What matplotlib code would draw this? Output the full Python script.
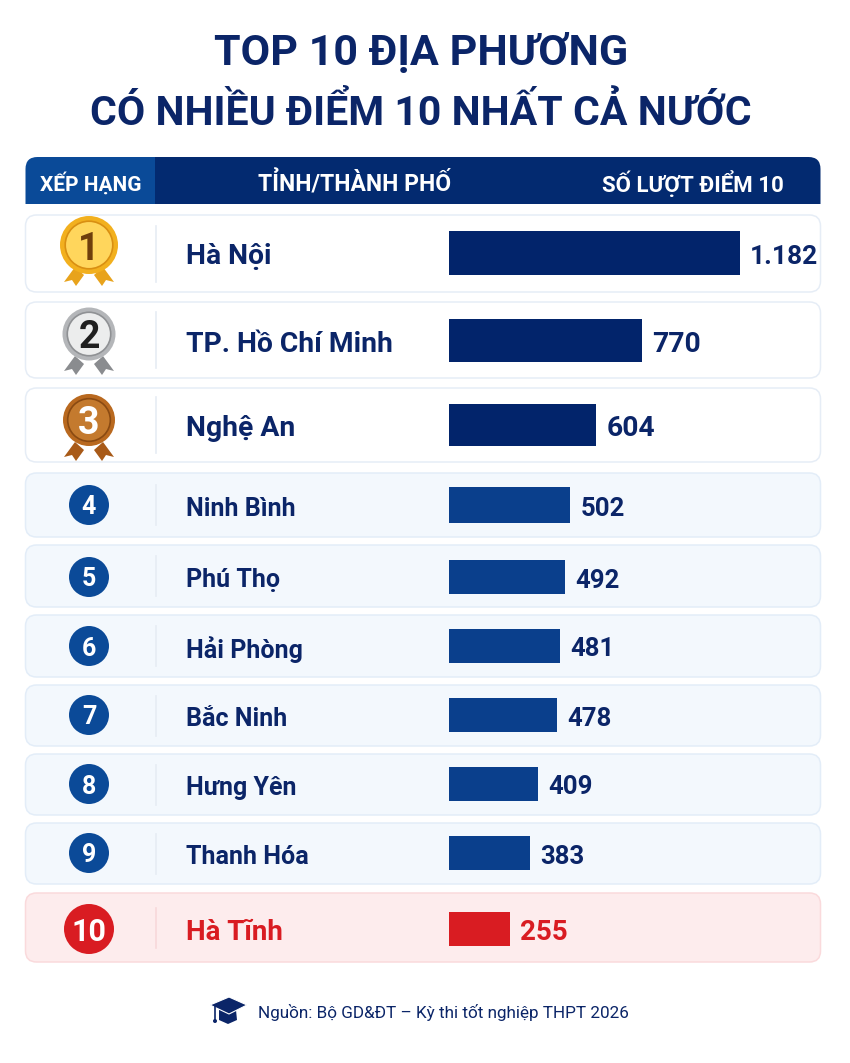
import matplotlib
matplotlib.use("Agg")
import matplotlib.pyplot as plt
from matplotlib.patches import Circle, FancyBboxPatch, PathPatch, Polygon
from matplotlib.path import Path

# data
title_lines = ["TOP 10 ĐỊA PHƯƠNG", "CÓ NHIỀU ĐIỂM 10 NHẤT CẢ NƯỚC"]
headers = ["XẾP HẠNG", "TỈNH/THÀNH PHỐ", "SỐ LƯỢT ĐIỂM 10"]
ranks = ["1", "2", "3", "4", "5", "6", "7", "8", "9", "10"]
places = ["Hà Nội", "TP. Hồ Chí Minh", "Nghệ An", "Ninh Bình", "Phú Thọ",
          "Hải Phòng", "Bắc Ninh", "Hưng Yên", "Thanh Hóa", "Hà Tĩnh"]
counts = [1182, 770, 604, 502, 492, 481, 478, 409, 383, 255]
count_labels = ["1.182", "770", "604", "502", "492", "481", "478", "409", "383", "255"]
# the drawn bars in the picture are not quite proportional to the labels,
# these are the lengths, on the same scale
bar_lengths = [1182, 785, 598, 494, 470, 450, 439, 363, 330, 248]
source = "Nguồn: Bộ GD&ĐT – Kỳ thi tốt nghiệp THPT 2026"

# layout, in pixels of the 850x1063 picture
row_top = [215, 302, 388, 473, 545, 615, 685, 754, 823, 893]
row_bot = [292, 378, 462, 537, 607, 677, 746, 815, 884, 962]
bar_mid = [253, 340, 425, 505, 577, 646, 715, 784, 853, 929]
bar_h = [44, 43, 42, 36, 34, 34, 34, 34, 34, 34]
medal_mid = [245, 334, 420]
medal_r = [29, 26.5, 26]

NAVY = "#02246b"
BLUE = "#0a3f8c"
RED = "#d91c22"
TEXT = "#0b2568"

plt.rcParams['font.family'] = ['Roboto', 'DejaVu Sans']

fig = plt.figure(figsize=(8.5, 10.63), dpi=100, facecolor="white")
ax = fig.add_axes([0, 0, 1, 1])
ax.set_xlim(0, 850)
ax.set_ylim(1063, 0)
ax.axis("off")

# bars get their own axes so the value scale stays a real one
bar_left, bar_right = 449, 820
px_per_count = 0.2458
ax_bar = fig.add_axes([bar_left/850, 0, (bar_right-bar_left)/850, 1])
ax_bar.set_xlim(0, (bar_right-bar_left)/px_per_count)
ax_bar.set_ylim(1063, 0)
ax_bar.axis("off")
ax_bar.patch.set_alpha(0)


def top_round(x0, x1, y0, y1, rl, rr):
    verts = [(x0, y1), (x0, y0+rl), (x0, y0), (x0+rl, y0), (x1-rr, y0), (x1, y0), (x1, y0+rr), (x1, y1), (x0, y1)]
    codes = [Path.MOVETO, Path.LINETO, Path.CURVE3, Path.CURVE3, Path.LINETO, Path.CURVE3, Path.CURVE3, Path.LINETO, Path.CLOSEPOLY]
    return Path(verts, codes)


for i, line in enumerate(title_lines):
    ax.text(421, [49, 109][i], line, ha="center", va="center_baseline", color=TEXT,
            fontsize=[31, 29.5][i], fontweight="bold")

# header band
ax.add_patch(PathPatch(top_round(25.5, 156, 157, 204, 12, 0), fc="#0a4a98", ec="none"))
ax.add_patch(PathPatch(top_round(155, 820.5, 157, 204, 0, 12), fc="#032a70", ec="none"))
for x, h, s in zip([91, 355, 692.5], headers, [15, 16.5, 16]):
    ax.text(x, 181, h, ha="center", va="center_baseline", color="white", fontsize=s, fontweight="bold")

# rows
for i in range(10):
    if i < 3:
        fc, ec = "white", "#e6edf6"
    elif i < 9:
        fc, ec = "#f3f8fd", "#e3edf8"
    else:
        fc, ec = "#fdeced", "#fadadc"
    ax.add_patch(FancyBboxPatch((25.5+11, row_top[i]+11), 795-22, row_bot[i]-row_top[i]-22,
                                boxstyle="round,pad=11,rounding_size=11", fc=fc, ec=ec, lw=1.1))
    m = (row_top[i]+row_bot[i])/2
    ax.plot([156, 156], [m-28 if i < 3 else m-20, m+28 if i < 3 else m+20],
            color="#e6ecf4" if i < 9 else "#f8d8da", lw=1.2)

    col = RED if i == 9 else TEXT
    size = 20.3 if i < 3 else (20 if i == 9 else 18)
    ax.text(186, bar_mid[i]+1, places[i], ha="left", va="center_baseline", color=col,
            fontsize=size, fontweight="bold")

# medals for the top three
medal_colors = [("#f2b01e", "#ffd65c", "#d98f12", "#e8a31c", "#6f3f0c"),
                ("#b4b6b9", "#eceded", "#8f9194", "#8a8c8f", "#1f1f1f"),
                ("#b9691f", "#c47a2e", "#8a4a12", "#a85a18", "white")]
ribbon = [(-14, 22), (-5, 30), (-13, 41), (-17, 35), (-25, 37)]
for i in range(3):
    outer, inner, ring, rib, num = medal_colors[i]
    cy = medal_mid[i]
    r = medal_r[i]
    for side in (-1, 1):
        pts = [(89+side*abs(px), cy+py) for px, py in ribbon]
        ax.add_patch(Polygon(pts, closed=True, fc=rib, ec="none"))
    ax.add_patch(Circle((89, cy), r, fc=outer, ec="none"))
    ax.add_patch(Circle((89, cy), r*0.82, fc=inner, ec=ring, lw=1.2))
    ax.text(89, cy, ranks[i], ha="center", va="center_baseline", color=num, fontsize=27, fontweight="bold")

# number badges
for i in range(3, 10):
    r = 25 if i == 9 else 20
    ax.add_patch(Circle((89, bar_mid[i]), r, fc=RED if i == 9 else "#0b4a98", ec="none"))
    ax.text(89, bar_mid[i], ranks[i], ha="center", va="center_baseline", color="white",
            fontsize=22 if i == 9 else 18, fontweight="bold")

# bars and values
colors = [NAVY]*3 + [BLUE]*6 + [RED]
ax_bar.barh(bar_mid, bar_lengths, height=bar_h, color=colors, left=0)
for i in range(10):
    size = 19 if i == 0 else (20.3 if i < 3 else (20 if i == 9 else 18.5))
    ax_bar.annotate(count_labels[i], (bar_lengths[i], bar_mid[i]+1), xytext=(7.5, 0), textcoords="offset points",
                    ha="left", va="center_baseline", color=RED if i == 9 else TEXT,
                    fontsize=size, fontweight="bold")

# graduation cap and source line
ax.add_patch(Polygon([(219, 1010), (236, 1010), (237, 1020), (228, 1024), (219, 1020)], closed=True, fc=TEXT, ec="none"))
ax.add_patch(Polygon([(210, 1005), (229, 997), (247, 1005), (229, 1014)], closed=True, fc=TEXT, ec="white", lw=0.8))
ax.plot([215, 215], [1006, 1020], color=TEXT, lw=1.2)
ax.add_patch(Circle((215, 1021), 2, fc=TEXT, ec="none"))
ax.text(258, 1011, source, ha="left", va="center_baseline", color=TEXT, fontsize=12.3)

fig.savefig("out.png", dpi=100)
